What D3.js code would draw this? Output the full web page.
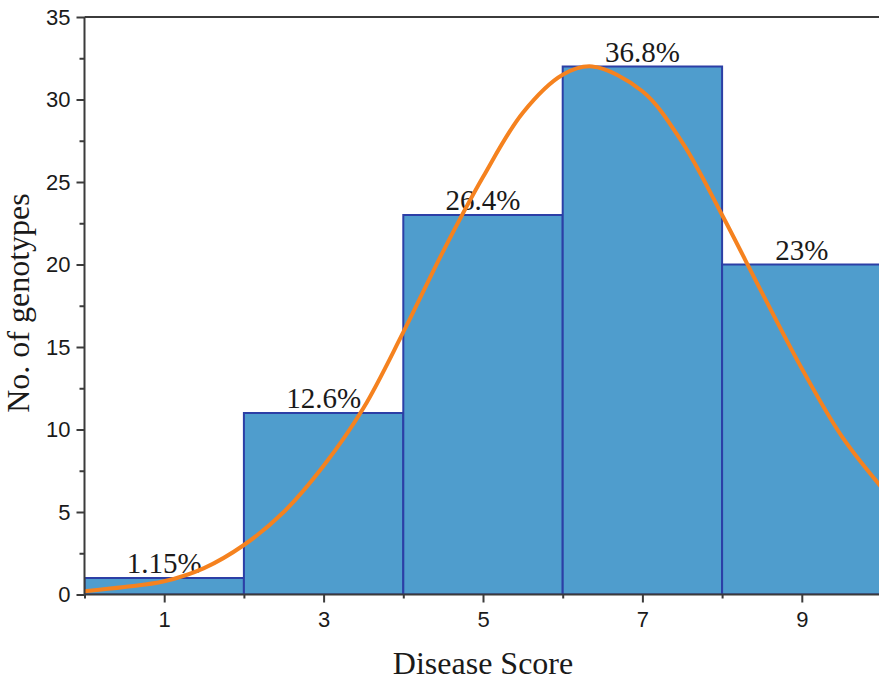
<!DOCTYPE html>
<html>
<head>
<meta charset="utf-8">
<script src="https://cdn.jsdelivr.net/npm/d3@7/dist/d3.min.js"></script>
<style>
  html, body { margin: 0; padding: 0; background: #fff; overflow: hidden; }
  svg { display: block; }
</style>
</head>
<body>
<svg id="chart" width="879" height="680"></svg>
<script>
// ---- Data ----
const binStarts = [0, 2, 4, 6, 8];
const binEnds   = [2, 4, 6, 8, 10];
const counts    = [1, 11, 23, 32, 20];
const percentLabels = ["1.15%", "12.6%", "26.4%", "36.8%", "23%"];

// fitted normal curve
const curveX = [0, 0.5, 1, 1.5, 2, 2.5, 3, 3.5, 4, 4.5, 5, 5.5, 6, 6.37, 7, 7.5, 8, 8.5, 9, 9.5, 10];
const curveY = [0.2, 0.45, 0.8, 1.6, 3.0, 5.0, 7.8, 11.3, 15.9, 20.8, 25.3, 29.2, 31.5, 32.0, 30.5, 27.4, 23.0, 18.3, 13.7, 9.6, 6.5];

const xMajorTicks = [1, 3, 5, 7, 9];
const xMinorTicks = [0, 2, 4, 6, 8, 10];
const yMajorTicks = [0, 5, 10, 15, 20, 25, 30, 35];
const yMinorTicks = [2.5, 7.5, 12.5, 17.5, 22.5, 27.5, 32.5];

// ---- Layout ----
const svg = d3.select("#chart");
const mLeft = 84.5, mRight = 881.5, mTop = 17, mBottom = 594.5;

const x = d3.scaleLinear().domain([0, 10]).range([mLeft, mRight]);
const y = d3.scaleLinear().domain([0, 35]).range([mBottom, mTop]);

const axisColor = "#3b3b3b";
const barFill = "#4f9dcd";
const barStroke = "#2c3fa6";
const curveColor = "#f5821f";

// clip
svg.append("defs").append("clipPath").attr("id", "plotclip")
  .append("rect").attr("x", mLeft).attr("y", mTop).attr("width", mRight - mLeft).attr("height", mBottom - mTop);

const bins = counts.map((c, i) => ({ x0: binStarts[i], x1: binEnds[i], c, label: percentLabels[i] }));

// bars
svg.append("g").attr("clip-path", "url(#plotclip)")
  .selectAll("rect").data(bins).join("rect")
  .attr("x", d => x(d.x0))
  .attr("y", d => y(d.c))
  .attr("width", d => x(d.x1) - x(d.x0))
  .attr("height", d => y(0) - y(d.c))
  .attr("fill", barFill)
  .attr("stroke", barStroke)
  .attr("stroke-width", 2);

// percentage labels
svg.append("g").selectAll("text").data(bins).join("text")
  .attr("x", d => x((d.x0 + d.x1) / 2))
  .attr("y", d => y(d.c) - 5)
  .attr("text-anchor", "middle")
  .attr("font-family", "'Liberation Serif', 'Times New Roman', serif")
  .attr("font-size", 29)
  .attr("fill", "#1a1a1a")
  .text(d => d.label);

// curve
const pts = curveX.map((v, i) => [v, curveY[i]]);
svg.append("path").attr("clip-path", "url(#plotclip)")
  .datum(pts)
  .attr("fill", "none")
  .attr("stroke", curveColor)
  .attr("stroke-width", 4)
  .attr("stroke-linecap", "round")
  .attr("d", d3.line().x(d => x(d[0])).y(d => y(d[1])).curve(d3.curveCatmullRom.alpha(0.5)));

// axes frame
const frame = svg.append("g").attr("stroke", axisColor).attr("stroke-width", 2).attr("fill", "none");
frame.append("line").attr("x1", mLeft).attr("x2", mRight).attr("y1", mTop).attr("y2", mTop);
frame.append("line").attr("x1", mLeft).attr("x2", mRight).attr("y1", mBottom).attr("y2", mBottom);
frame.append("line").attr("x1", mLeft).attr("x2", mLeft).attr("y1", mTop).attr("y2", mBottom);
frame.append("line").attr("x1", mRight).attr("x2", mRight).attr("y1", mTop).attr("y2", mBottom);

// y axis
const yAxis = svg.append("g").attr("transform", `translate(${mLeft},0)`)
  .call(d3.axisLeft(y).tickValues(yMajorTicks).tickSize(8).tickPadding(6).tickFormat(d3.format("d")));
yAxis.select(".domain").remove();
yAxis.selectAll(".tick line").attr("stroke", axisColor).attr("stroke-width", 2);
yAxis.selectAll(".tick text")
  .attr("font-family", "'Liberation Sans', Arial, sans-serif")
  .attr("font-size", 22).attr("fill", "#1a1a1a");

const yMinor = svg.append("g").attr("transform", `translate(${mLeft},0)`)
  .call(d3.axisLeft(y).tickValues(yMinorTicks).tickSize(5).tickFormat(""));
yMinor.select(".domain").remove();
yMinor.selectAll(".tick line").attr("stroke", axisColor).attr("stroke-width", 2);

// x axis
const xAxis = svg.append("g").attr("transform", `translate(0,${mBottom})`)
  .call(d3.axisBottom(x).tickValues(xMajorTicks).tickSize(8).tickPadding(9).tickFormat(d3.format("d")));
xAxis.select(".domain").remove();
xAxis.selectAll(".tick line").attr("stroke", axisColor).attr("stroke-width", 2);
xAxis.selectAll(".tick text")
  .attr("font-family", "'Liberation Sans', Arial, sans-serif")
  .attr("font-size", 22).attr("fill", "#1a1a1a");

const xMinor = svg.append("g").attr("transform", `translate(0,${mBottom})`)
  .call(d3.axisBottom(x).tickValues(xMinorTicks).tickSize(4).tickFormat(""));
xMinor.select(".domain").remove();
xMinor.selectAll(".tick line").attr("stroke", axisColor).attr("stroke-width", 2);

// axis titles
svg.append("text")
  .attr("x", 483).attr("y", 674)
  .attr("text-anchor", "middle")
  .attr("font-family", "'Liberation Serif', 'Times New Roman', serif")
  .attr("font-size", 32).attr("fill", "#1a1a1a")
  .text("Disease Score");

svg.append("text")
  .attr("transform", "translate(29,303) rotate(-90)")
  .attr("text-anchor", "middle")
  .attr("font-family", "'Liberation Serif', 'Times New Roman', serif")
  .attr("font-size", 32).attr("fill", "#1a1a1a")
  .text("No. of genotypes");
</script>
</body>
</html>
